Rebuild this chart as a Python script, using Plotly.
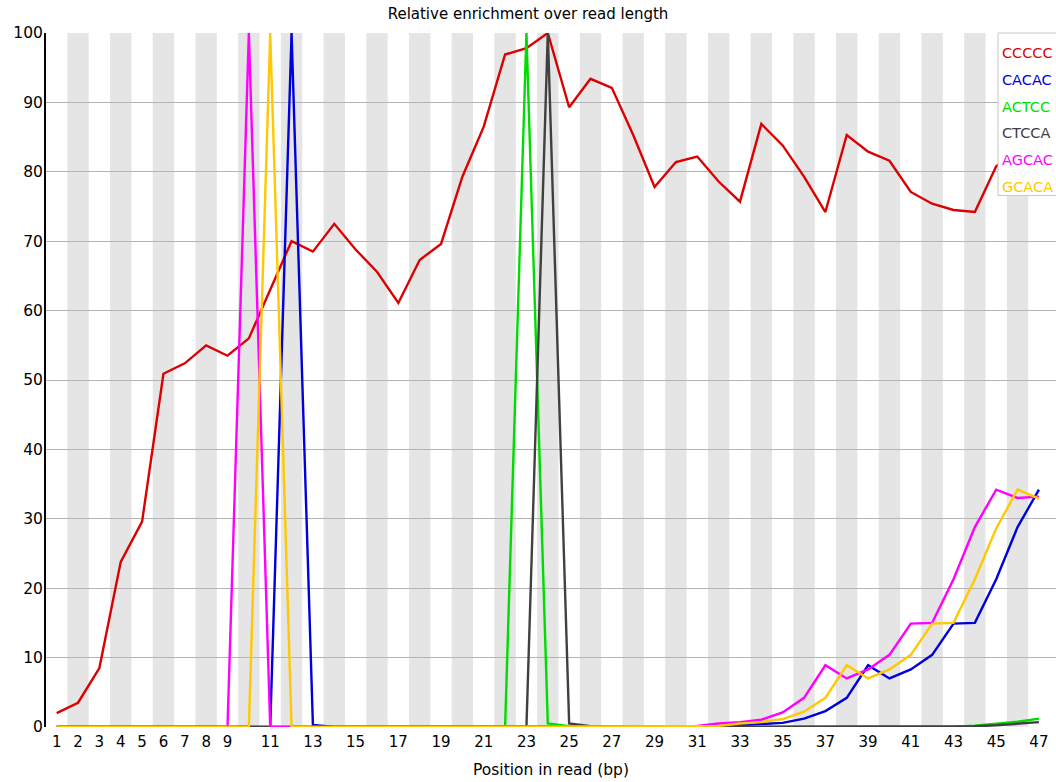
import plotly.graph_objects as go

positions = list(range(1, 48))

kmers = ["CCCCC", "CACAC", "ACTCC", "CTCCA", "AGCAC", "GCACA"]
colors = ["#DC0000", "#0000DC", "#00DC00", "#404040", "#FF00FF", "#FFC800"]

cccc = [2.0, 3.5, 8.5, 23.8, 29.6, 50.9, 52.4, 55.0, 53.5, 56.0,
        63.0, 70.0, 68.5, 72.5, 68.8, 65.6, 61.1, 67.3, 69.6, 79.3,
        86.5, 96.9, 97.8, 100.0, 89.3, 93.4, 92.1, 85.3, 77.8, 81.4,
        82.2, 78.6, 75.7, 86.9, 83.8, 79.3, 74.2, 85.3, 82.9, 81.6,
        77.1, 75.4, 74.5, 74.2, 80.8, 83.0, 85.0]

cacac = [0]*11 + [100.0, 0.3] + [0]*17 + \
        [0.05, 0.1, 0.25, 0.4, 0.6, 1.2, 2.3, 4.2, 8.9, 7.0,
         8.3, 10.4, 14.9, 15.0, 21.3, 28.8, 34.2]

actcc = [0]*22 + [100.0, 0.5, 0.1] + [0]*17 + [0.05, 0.2, 0.45, 0.75, 1.2]

ctcca = [0]*23 + [100.0, 0.5, 0.1] + [0]*17 + [0.1, 0.25, 0.5, 0.7]

agcac = [0]*9 + [100.0] + [0]*19 + \
        [0.1, 0.15, 0.5, 0.7, 1.05, 2.1, 4.2, 8.9, 7.0, 8.3,
         10.4, 14.9, 15.0, 21.3, 28.8, 34.2, 33.0, 33.2]

gcaca = [0]*10 + [100.0] + [0]*19 + \
        [0.1, 0.15, 0.5, 0.7, 1.15, 2.2, 4.2, 8.9, 7.0, 8.3,
         10.4, 14.9, 15.0, 21.3, 28.6, 34.2, 32.9]

series = [cccc, cacac, actcc, ctcca, agcac, gcaca]

xtick_vals = list(range(1, 10)) + list(range(11, 48, 2))
xtick_text = [str(v) for v in xtick_vals]
ytick_vals = list(range(0, 101, 10))

title_text = "Relative enrichment over read length"
xlabel = "Position in read (bp)"

FONT = "DejaVu Sans"

fig = go.Figure()
for name, col, vals in zip(kmers, colors, series):
    fig.add_trace(go.Scatter(x=positions, y=vals, mode="lines", name=name,
                             line=dict(color=col, width=2.4), showlegend=False))

shapes = []
for p in positions:
    if p % 2 == 0:
        shapes.append(dict(type="rect", xref="x", yref="y", x0=p - 0.5, x1=p + 0.5,
                           y0=0, y1=100, fillcolor="#E5E5E5", line=dict(width=0),
                           layer="below"))

# legend box
shapes.append(dict(type="rect", xref="paper", yref="paper", x0=0.9426, x1=1.02,
                   y0=0.766, y1=1.0, fillcolor="white",
                   line=dict(color="#C8C8C8", width=1), layer="above"))

annotations = []
for i, (name, col) in enumerate(zip(kmers, colors)):
    annotations.append(dict(text=name, xref="paper", yref="paper", x=0.9443,
                            y=0.971 - i * 0.0385, xanchor="left", yanchor="middle",
                            showarrow=False, font=dict(family=FONT, size=14.5, color=col)))

fig.update_layout(
    width=1056, height=782,
    margin=dict(l=46, r=0, t=33, b=55),
    paper_bgcolor="white", plot_bgcolor="white",
    title=dict(text=title_text, x=0.5, xanchor="center", y=0.982, yanchor="middle",
               font=dict(family=FONT, size=15, color="#000000")),
    font=dict(family=FONT, size=15, color="#000000"),
    shapes=shapes, annotations=annotations,
    showlegend=False,
)
fig.update_xaxes(range=[0.5, 47.8], tickvals=xtick_vals, ticktext=xtick_text,
                 showgrid=False, zeroline=False, showline=False,
                 ticks="", tickfont=dict(family=FONT, size=15), ticklabelstandoff=4,
                 title=dict(text=xlabel, font=dict(family=FONT, size=15.5), standoff=14))
fig.update_yaxes(range=[0, 100], tickvals=ytick_vals, showgrid=True,
                 gridcolor="#B4B4B4", gridwidth=1, zeroline=False,
                 showline=True, linecolor="black", linewidth=2,
                 ticks="", tickfont=dict(family=FONT, size=15.5), ticklabelstandoff=-2)

fig.write_html("out.html", config={"displayModeBar": False},
               post_script="document.body.style.margin='0';document.body.style.overflow='hidden';")
